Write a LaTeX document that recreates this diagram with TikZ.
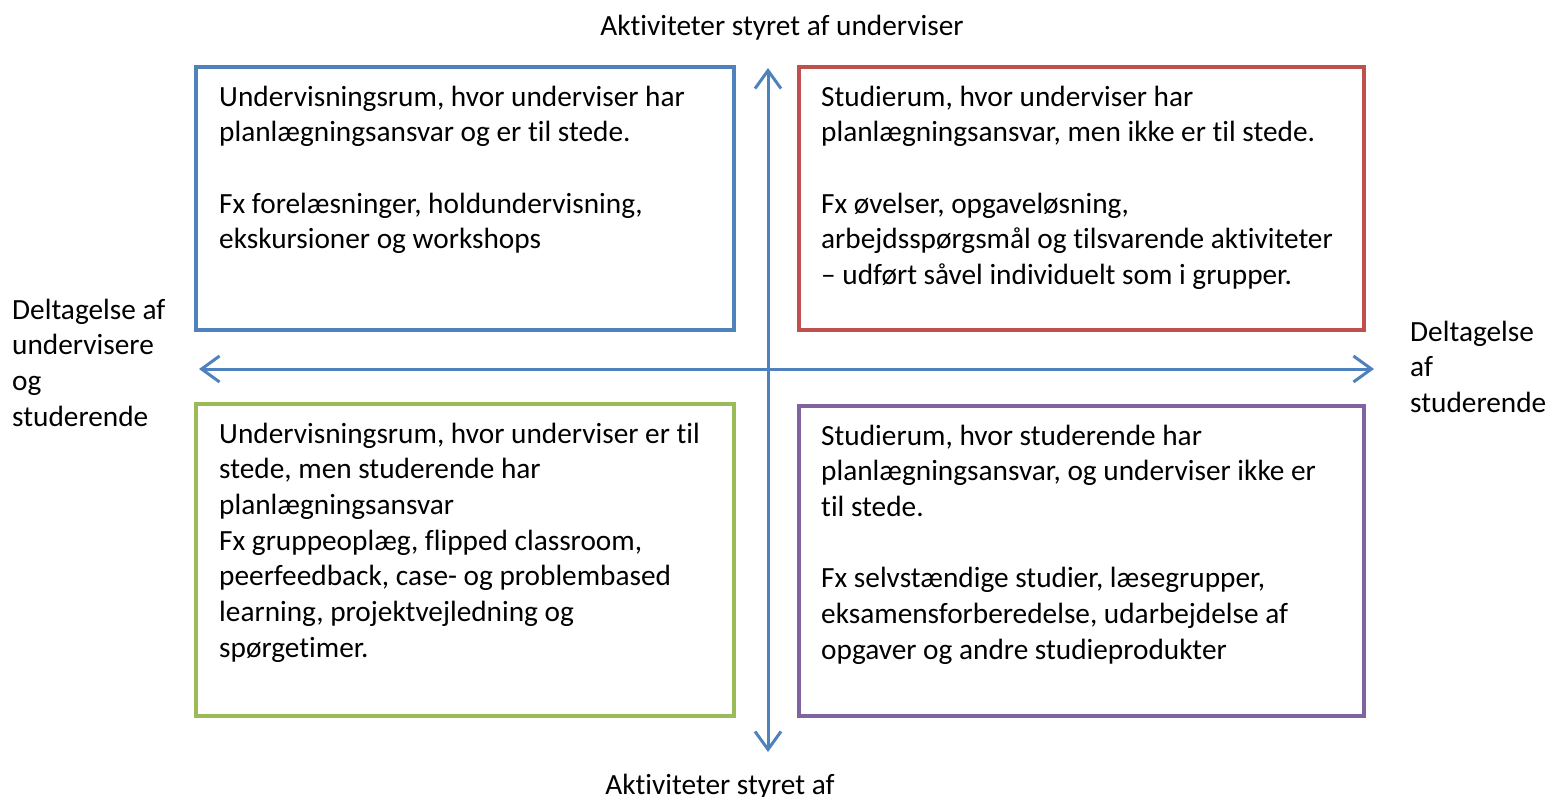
\documentclass[tikz,border=0pt]{standalone}
\usepackage{fontspec}
\setmainfont{Carlito}[Ligatures=NoCommon]
\usetikzlibrary{arrows.meta}
\definecolor{oblue}{HTML}{4F81BD}
\definecolor{ored}{HTML}{C0504D}
\definecolor{ogreen}{HTML}{9BBB59}
\definecolor{opurple}{HTML}{8064A2}
\tikzset{
  quad/.style={draw=#1, line width=4pt, inner sep=0pt, outer sep=0pt, anchor=north west},
  boxtext/.style={anchor=north west, inner sep=0pt, align=left, font=\fontsize{29.3}{35.7}\selectfont},
  label/.style={inner sep=0pt, align=left, font=\fontsize{29.3}{35.7}\selectfont},
  axis/.style={draw=oblue, line width=3pt, {Straight Barb[length=18pt,width=26pt]}-{Straight Barb[length=18pt,width=26pt]}}
}
\begin{document}
\begin{tikzpicture}[x=1pt,y=-1pt]
\useasboundingbox (0,0) rectangle (1550,797);
% boxes
\node[quad=oblue, minimum width=538pt, minimum height=263pt] (tl) at (196,67) {};
\node[quad=ored, minimum width=565pt, minimum height=263pt] (tr) at (799,67) {};
\node[quad=ogreen, minimum width=538pt, minimum height=312pt] (bl) at (196,404) {};
\node[quad=opurple, minimum width=565pt, minimum height=310pt] (br) at (799,406) {};
% axes
\coordinate (vt) at (768,68);
\coordinate (vb) at (768,752);
\coordinate (hl) at (199,369);
\coordinate (hr) at (1374,369);
\draw[axis] (vb) -- (vt);
\draw[axis] (hl) -- (hr);
% box texts
\node[boxtext] (tltext) at (219,81) {\strut Undervisningsrum, hvor underviser har\\planlægningsansvar og er til stede.\\[35.7pt]Fx forelæsninger, holdundervisning,\\ekskursioner og workshops};
\node[boxtext] (trtext) at (821,81) {\strut Studierum, hvor underviser har\\planlægningsansvar, men ikke er til stede.\\[35.7pt]Fx øvelser, opgaveløsning,\\arbejdsspørgsmål og tilsvarende aktiviteter\\– udført såvel individuelt som i grupper.};
\node[boxtext] (bltext) at (219,418) {\strut Undervisningsrum, hvor underviser er til\\stede, men studerende har\\planlægningsansvar\\Fx gruppeoplæg, flipped classroom,\\peerfeedback, case- og problembased\\learning, projektvejledning og\\spørgetimer.};
\node[boxtext] (brtext) at (821,420) {\strut Studierum, hvor studerende har\\planlægningsansvar, og underviser ikke er\\til stede.\\[35.7pt]Fx selvstændige studier, læsegrupper,\\eksamensforberedelse, udarbejdelse af\\opgaver og andre studieprodukter};
% axis labels
\node[label, anchor=base] (top) at (782,36) {Aktiviteter styret af underviser};
\node[label, anchor=base] (bottom) at (720,794) {Aktiviteter styret af};
\node[boxtext] (left) at (12,294) {\strut Deltagelse af\\undervisere\\og\\studerende};
\node[boxtext] (right) at (1410,316) {\strut Deltagelse\\af\\studerende};
\end{tikzpicture}
\end{document}
